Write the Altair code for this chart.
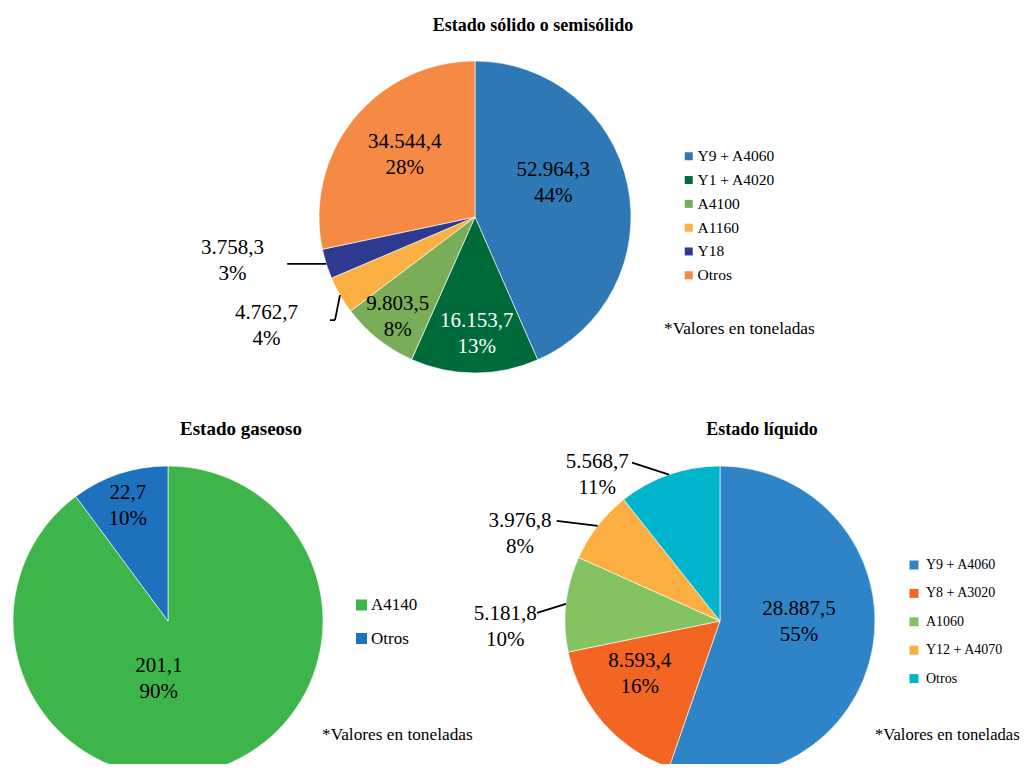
import math
import altair as alt
import pandas as pd

# ---------------- data ----------------
solid_cats = ["Y9 + A4060", "Y1 + A4020", "A4100", "A1160", "Y18", "Otros"]
solid_vals = [52964.3, 16153.7, 9803.5, 4762.7, 3758.3, 34544.4]
solid_val_txt = ["52.964,3", "16.153,7", "9.803,5", "4.762,7", "3.758,3", "34.544,4"]
solid_pct_txt = ["44%", "13%", "8%", "4%", "3%", "28%"]
solid_colors = ["#2E79B5", "#006B3A", "#79AD57", "#FAB042", "#2E3A8F", "#F58A45"]

gas_cats = ["A4140", "Otros"]
gas_vals = [201.1, 22.7]
gas_val_txt = ["201,1", "22,7"]
gas_pct_txt = ["90%", "10%"]
gas_colors = ["#3DB54A", "#1E71BC"]

liq_cats = ["Y9 + A4060", "Y8 + A3020", "A1060", "Y12 + A4070", "Otros"]
liq_vals = [28887.5, 8593.4, 5181.8, 3976.8, 5568.7]
liq_val_txt = ["28.887,5", "8.593,4", "5.181,8", "3.976,8", "5.568,7"]
liq_pct_txt = ["55%", "16%", "10%", "8%", "11%"]
liq_colors = ["#2F84C8", "#F26522", "#84C262", "#FAAF40", "#00B4CB"]

titles = ["Estado sólido o semisólido", "Estado gaseoso", "Estado líquido"]
note = "*Valores en toneladas"

# ---------------- styling ----------------
SERIF = "Liberation Serif"
theta_scale = alt.Scale(domain=[0, 1], range=[0, 2 * math.pi])
LH = 26  # line height of the two-line slice labels


def pie_layer(cats, vals, vtx, ptx, colors, cx, cy, R, legend, labels, leaders):
    df = pd.DataFrame({"cat": cats, "val": vals, "vt": vtx, "pt": ptx,
                       "ord": list(range(len(cats)))})
    base = (
        alt.Chart(df)
        .transform_joinaggregate(tot="sum(val)")
        .transform_window(cum="sum(val)", sort=[alt.SortField("ord", order="ascending")],
                          frame=[None, 0])
        .transform_calculate(
            s="(datum.cum - datum.val) / datum.tot",
            e="datum.cum / datum.tot",
            m="(datum.cum - datum.val / 2) / datum.tot",
            lab="datum.vt + '|' + datum.pt",
        )
    )
    arc = base.mark_arc(radius=R, stroke="white", strokeWidth=0.6).encode(
        theta=alt.Theta("s:Q", scale=theta_scale, stack=None),
        theta2="e:Q",
        color=alt.Color("cat:N", scale=alt.Scale(domain=cats, range=colors), legend=legend),
        x=alt.value(cx),
        y=alt.value(cy),
    )
    layers = [arc]
    for cat, (r, dx, dy, col) in labels.items():
        layers.append(
            base.transform_filter(alt.datum.cat == cat)
            .mark_text(radius=r, dx=dx, dy=dy - LH / 2, font=SERIF, fontSize=21,
                       lineBreak="|", lineHeight=LH, align="center", baseline="middle",
                       color=col)
            .encode(theta=alt.Theta("m:Q", scale=theta_scale, stack=None),
                    text="lab:N", x=alt.value(cx), y=alt.value(cy))
        )
    for cat, segs in leaders.items():
        for (a1, b1, a2, b2) in segs:
            layers.append(
                base.transform_filter(alt.datum.cat == cat)
                .transform_calculate(
                    ex=f"{cx} + {R} * sin(2 * PI * datum.m)",
                    ey=f"{cy} - {R} * cos(2 * PI * datum.m)",
                )
                .transform_calculate(
                    lx1=f"datum.ex + ({a1})", ly1=f"datum.ey + ({b1})",
                    lx2=f"datum.ex + ({a2})", ly2=f"datum.ey + ({b2})",
                )
                .mark_rule(color="black", strokeWidth=1.8)
                .encode(x=alt.X("lx1:Q", scale=None, axis=None),
                        y=alt.Y("ly1:Q", scale=None, axis=None),
                        x2="lx2:Q", y2="ly2:Q")
            )
    return alt.layer(*layers)


def legend(x, y, size, font, rowpad, offset):
    return alt.Legend(orient="none", legendX=x, legendY=y, title=None, symbolType="square",
                      symbolSize=size, symbolStrokeWidth=0, labelFont=SERIF,
                      labelFontSize=font, labelColor="black", rowPadding=rowpad,
                      padding=0, labelOffset=offset)


solid = pie_layer(
    solid_cats, solid_vals, solid_val_txt, solid_pct_txt, solid_colors, 467, 209, 156,
    legend(673, 140.5, 64, 15.5, 6.8, 1),
    {
        "Y9 + A4060": (85, -5, -17, "black"),
        "Y1 + A4020": (117, 2, 0, "white"),
        "A4100": (126, 1, 1, "black"),
        "A1160": (235, -5, -9, "black"),
        "Y18": (247, -7, -30, "black"),
        "Otros": (93, 2, -3, "black"),
    },
    {"Y18": [(0, 0, -39, 0)], "A1160": [(0, 0, -5, 25), (-5, 25, -10, 25)]},
)

gas = pie_layer(
    gas_cats, gas_vals, gas_val_txt, gas_pct_txt, gas_colors, 160, 613, 155,
    legend(345, 588.5, 121, 17, 15.5, 1),
    {"A4140": (57, -27, 4, "black"), "Otros": (122, -2, 1, "black")},
    {},
)

liquid = pie_layer(
    liq_cats, liq_vals, liq_val_txt, liq_pct_txt, liq_colors, 712, 613, 155,
    legend(899, 550, 81, 14, 14.4, 5),
    {
        "Y9 + A4060": (79, 1, -12, "black"),
        "Y8 + A3020": (96, -8, -10, "black"),
        "A1060": (215, -1, 30, "black"),
        "Y12 + A4070": (218, -28, 47, "black"),
        "Otros": (191, -60, 34, "black"),
    },
    {"A1060": [(0, 0, -29, 9)], "Y12 + A4070": [(0, 0, -41, -5)],
     "Otros": [(0, 0, -37, -12)]},
)


def text_layer(txt, x, y, size, bold=False, align="center"):
    return alt.Chart(pd.DataFrame({"t": [txt]})).mark_text(
        font=SERIF, fontSize=size, fontWeight="bold" if bold else "normal",
        align=align, baseline="alphabetic", color="black",
    ).encode(text="t:N", x=alt.value(x), y=alt.value(y))


extras = [
    text_layer(titles[0], 525, 23, 18, bold=True),
    text_layer(titles[1], 233, 427, 19, bold=True),
    text_layer(titles[2], 754, 427, 18, bold=True),
    text_layer(note, 656, 326, 17.3, align="left"),
    text_layer(note, 314, 732, 17.3, align="left"),
    text_layer(note, 867, 732, 16.6, align="left"),
]

chart = (
    alt.layer(solid, gas, liquid, *extras)
    .resolve_scale(color="independent")
    .properties(width=1013, height=756, autosize=alt.AutoSizeParams(type="none"), padding=0)
    .configure_view(stroke=None)
)

chart.save("out.html", embed_options={"renderer": "svg", "actions": False})
